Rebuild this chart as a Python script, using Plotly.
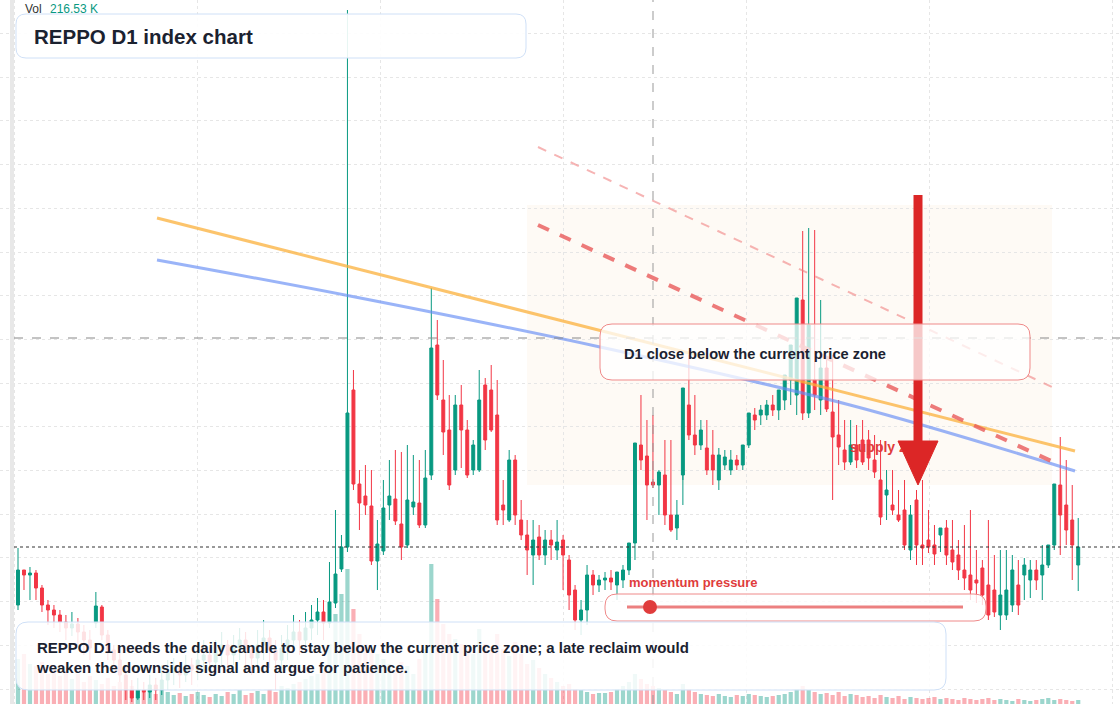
import plotly.graph_objects as go

# pixel-space traced OHLC (y pixel, converted to price = 704 - y)
opens_y = [605,570,575,573,588,605,610,615,622,628,624,632,640,623,607,635,650,660,675,690,698,690,692,685,690,680,672,668,675,665,670,660,655,662,650,645,655,648,640,650,658,645,638,650,660,648,640,632,640,628,620,612,623,603,569,
547,390,484,496,506,561,551,505,499,524,545,507,503,525,475,345,400,430,470,405,430,470,470,385,390,415,505,520,460,520,535,555,537,555,540,550,540,560,590,620,610,575,585,580,578,585,580,570,543,445,456,482,485,475,515,528,475,405,435,445,448,455,480,465,470,460,465,445,415,415,415,405,410,400,380,395,300,413,380,400,368,412,435,450,462,445,440,440,460,480,495,505,515,510,550,500,545,540,545,535,528,550,555,570,575,580,568,
585,590,615,615,605,585,575,580,570,575,565,545,485,505,520,565]
closes_y = [570,575,573,588,605,610,615,622,628,624,632,640,648,606,635,650,660,675,690,698,690,692,685,690,680,672,668,675,665,670,660,655,662,650,645,655,648,640,650,658,645,638,650,660,648,640,632,640,628,620,612,623,602,574,547,
413,484,503,505,561,544,508,496,521,547,500,502,525,478,348,395,432,485,405,430,475,445,400,440,430,520,510,460,515,535,550,540,555,540,545,542,555,595,620,610,575,585,580,578,582,572,570,543,443,460,485,485,472,515,530,515,388,435,445,430,470,470,455,457,460,465,445,413,420,410,405,410,390,375,345,298,413,325,395,368,409,437,447,462,445,460,462,458,472,517,490,510,520,545,515,545,548,547,554,528,555,562,570,578,590,583,595,
615,612,595,590,570,605,565,570,580,565,545,484,515,530,545,547]
highs_y = [548,570,567,570,585,600,605,610,615,612,618,625,630,592,605,630,645,650,665,680,678,682,675,678,665,660,658,662,655,658,645,640,648,640,632,640,635,628,632,645,630,620,630,640,635,625,615,620,612,605,598,600,562,510,535,
10,370,470,465,470,520,480,460,450,452,445,455,460,450,288,320,360,395,395,385,420,440,370,378,365,380,480,450,455,500,520,520,525,530,530,520,535,555,585,600,565,570,575,572,570,575,565,568,530,395,420,415,470,440,440,500,505,355,395,420,420,430,448,450,450,455,455,440,408,405,400,395,400,385,355,330,231,228,230,300,360,355,400,420,420,425,420,430,435,440,470,470,490,480,505,490,480,510,525,535,520,520,540,525,510,550,560,520,
555,550,550,555,560,558,560,560,545,550,530,437,460,485,518,538]
lows_y = [610,590,600,600,612,625,628,632,640,636,645,655,660,628,640,660,668,682,700,702,700,700,698,700,695,690,685,688,682,685,680,672,675,670,665,668,665,660,668,675,670,660,668,690,672,660,650,655,650,640,635,640,628,608,572,
552,490,530,515,565,590,555,520,525,560,548,515,528,528,480,400,455,490,475,468,478,475,472,450,432,525,525,522,525,540,575,585,560,565,560,560,590,610,630,635,625,595,592,590,590,600,588,575,560,470,520,488,515,525,532,540,480,440,455,450,475,485,490,470,475,470,470,448,430,425,420,416,420,410,405,415,420,418,410,415,412,500,465,470,465,468,465,470,478,525,520,515,522,550,560,565,565,553,565,552,565,570,580,590,600,603,605,
620,617,630,620,612,615,600,598,590,600,568,550,555,545,580,591]
volumes = [45,50,40,38,42,30,35,28,33,25,30,22,28,24,20,26,18,22,15,18,14,12,16,10,14,12,9,11,8,10,12,9,7,10,8,12,10,14,9,11,13,10,15,12,18,16,20,22,25,28,30,35,60,90,110,
135,95,70,60,55,50,45,40,35,42,38,30,45,55,140,105,80,70,65,60,55,50,75,60,58,70,55,48,62,50,40,44,36,30,26,22,18,20,15,14,12,10,11,11,12,15,18,22,30,25,20,18,16,14,12,10,20,15,12,10,9,8,10,8,7,9,8,10,9,8,7,8,9,10,12,15,18,14,12,10,11,9,12,8,10,9,7,8,6,9,7,6,8,5,7,6,5,6,7,5,6,5,4,6,5,4,5,6,4,5,4,3,5,4,3,4,5,6,4,5,4,3,4]

W, H = 1120, 704
n = min(len(opens_y), len(closes_y), len(highs_y), len(lows_y))
idx = list(range(n))
price = lambda v: [704 - a for a in v[:n]]
o, c, hi, lo = price(opens_y), price(closes_y), price(highs_y), price(lows_y)
vol = volumes[:n]
step = 5.99
x0 = 18
xr = [-x0 / step, (W - x0) / step]

fig = go.Figure()
fig.add_trace(go.Bar(x=idx[:len(vol)], y=vol, yaxis="y2",
    marker_color=["rgba(8,153,129,0.4)" if cc >= oo else "rgba(242,54,69,0.4)" for oo, cc in zip(o, c)],
    marker_line_width=0, width=0.7, showlegend=False, hoverinfo="skip"))
fig.add_trace(go.Candlestick(x=idx, open=o, high=hi, low=lo, close=c,
    increasing=dict(line=dict(color="#089981", width=1), fillcolor="#089981"),
    decreasing=dict(line=dict(color="#F23645", width=1), fillcolor="#F23645"),
    whiskerwidth=0, showlegend=False))

def P(xs, ys, **kw):
    fig.add_trace(go.Scatter(x=xs, y=ys, xaxis="x2", yaxis="y3", showlegend=False, hoverinfo="skip", **kw))

P([157, 1075], [218, 451], mode="lines", line=dict(color="rgba(251,176,59,0.75)", width=3))
P([157, 350, 600, 850, 1075], [260, 296, 347, 405, 471], mode="lines", line=dict(color="rgba(100,140,245,0.65)", width=3, shape="spline"))
P([538, 1060], [225, 465], mode="lines", line=dict(color="rgba(232,90,90,0.8)", width=4, dash="dash"))
P([538, 1052], [147, 387], mode="lines", line=dict(color="rgba(240,130,130,0.6)", width=2, dash="dash"))
P([850], [448], mode="text", text=["<b>supply zone</b>"], textposition="middle right",
  textfont=dict(color="#e03c3c", size=14, family="Liberation Sans"))
P([918, 918], [195, 442], mode="lines", line=dict(color="#dc2626", width=9))
P([898, 938, 918, 898], [441, 441, 485, 441], mode="lines", fill="toself", fillcolor="#dc2626", line=dict(color="#dc2626", width=1))

def rr(x1, y1, x2, y2, r):
    fx = lambda v: v / W
    fy = lambda v: 1 - v / H
    return (f"M{fx(x1+r)},{fy(y1)} L{fx(x2-r)},{fy(y1)} Q{fx(x2)},{fy(y1)} {fx(x2)},{fy(y1+r)} "
            f"L{fx(x2)},{fy(y2-r)} Q{fx(x2)},{fy(y2)} {fx(x2-r)},{fy(y2)} L{fx(x1+r)},{fy(y2)} "
            f"Q{fx(x1)},{fy(y2)} {fx(x1)},{fy(y2-r)} L{fx(x1)},{fy(y1+r)} Q{fx(x1)},{fy(y1)} {fx(x1+r)},{fy(y1)} Z")

def px(v): return v / W
def py(v): return 1 - v / H

shapes = [
    dict(type="rect", xref="paper", yref="paper", x0=px(527), x1=px(1052), y0=py(485), y1=py(205),
         fillcolor="rgba(250,235,215,0.25)", line_width=0, layer="below"),
    dict(type="rect", xref="paper", yref="paper", x0=px(10), x1=px(14), y0=0, y1=1,
         fillcolor="#e8e8e8", line_width=0, layer="above"),
    dict(type="line", xref="paper", yref="paper", x0=px(14), x1=1, y0=py(338), y1=py(338),
         line=dict(color="#888", width=1, dash="dash")),
    dict(type="line", xref="paper", yref="paper", x0=px(14), x1=1, y0=py(547), y1=py(547),
         line=dict(color="#333", width=1, dash="dot")),
    dict(type="line", xref="paper", yref="paper", x0=px(653), x1=px(653), y0=0, y1=1,
         line=dict(color="#999", width=1, dash="dash")),
    dict(type="path", xref="paper", yref="paper", path=rr(16, 14, 526, 58, 10),
         fillcolor="rgba(255,255,255,0.9)", line=dict(color="#cfe0f7", width=1), layer="above"),
    dict(type="path", xref="paper", yref="paper", path=rr(600, 324, 1030, 380, 12),
         fillcolor="rgba(255,255,255,0.75)", line=dict(color="#ef8a8a", width=1), layer="above"),
    dict(type="path", xref="paper", yref="paper", path=rr(605, 594, 986, 621, 12),
         fillcolor="rgba(255,255,255,0.8)", line=dict(color="#ef8a8a", width=1), layer="above"),
    dict(type="line", xref="paper", yref="paper", x0=px(627), x1=px(963), y0=py(607), y1=py(607),
         line=dict(color="#ec8080", width=3), layer="above"),
    dict(type="circle", xref="paper", yref="paper", x0=px(643), x1=px(657), y0=py(614), y1=py(600),
         fillcolor="#e03c3c", line_width=0, layer="above"),
    dict(type="path", xref="paper", yref="paper", path=rr(16, 622, 946, 690, 12),
         fillcolor="rgba(255,255,255,0.85)", line=dict(color="#cfe0f7", width=1), layer="above"),
]

ann = [
    dict(x=px(23), y=py(9), text="Vol", font=dict(size=12, color="#333")),
    dict(x=px(48), y=py(9), text="216.53 K", font=dict(size=12, color="#089981")),
    dict(x=px(32), y=py(36), text="<b>REPPO D1 index chart</b>", font=dict(size=20.5, color="#1b2230")),
    dict(x=px(622), y=py(354), text="<b>D1 close below the current price zone</b>", font=dict(size=14.6, color="#1b2230")),
    dict(x=px(627), y=py(582), text="<b>momentum pressure</b>", font=dict(size=13, color="#e03c3c")),
    dict(x=px(34), y=py(657), text="<b>REPPO D1 needs the daily candle to stay below the current price zone; a late reclaim would<br>weaken the downside signal and argue for patience.</b>",
         font=dict(size=15, color="#1b2230"), align="left"),
]
for a in ann:
    a.update(xref="paper", yref="paper", xanchor="left", yanchor="middle", showarrow=False)
    a["font"]["family"] = "Liberation Sans"

fig.update_layout(
    width=W, height=H, margin=dict(l=0, r=0, t=0, b=0),
    paper_bgcolor="white", plot_bgcolor="white", showlegend=False,
    xaxis=dict(range=xr, rangeslider=dict(visible=False), showticklabels=False, zeroline=False,
               showgrid=True, gridcolor="#e6e6e6", griddash="dot", tick0=(197 - x0) / step, dtick=183 / step),
    xaxis2=dict(range=[0, W], overlaying="x", visible=False),
    yaxis=dict(range=[0, 704], showticklabels=False, zeroline=False, showgrid=True,
               gridcolor="#e6e6e6", griddash="dot", tick0=15, dtick=43.7),
    yaxis2=dict(range=[0, 704], overlaying="y", visible=False),
    yaxis3=dict(range=[H, 0], overlaying="y", visible=False),
    shapes=shapes, annotations=ann,
)
fig.write_html("out.html", config={"displayModeBar": False},
               post_script="document.body.style.margin='0';document.body.style.overflow='hidden';")
